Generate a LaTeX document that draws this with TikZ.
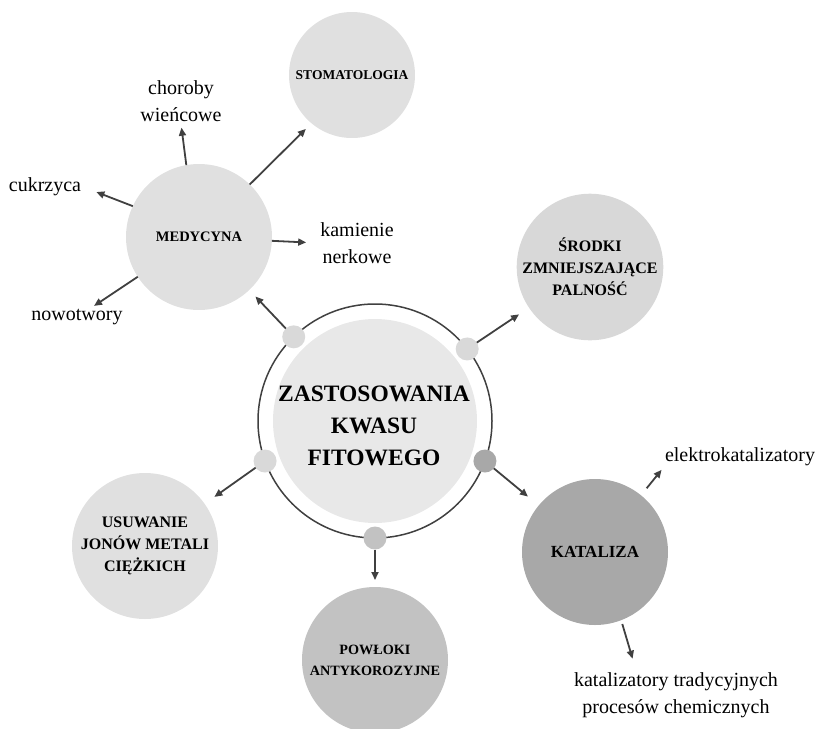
\documentclass[tikz,border=0pt]{standalone}
\usepackage{fontspec}
\setmainfont{Liberation Serif}
\usetikzlibrary{arrows.meta}
\definecolor{cgrey}{HTML}{E8E8E8}
\definecolor{lgrey}{HTML}{E0E0E0}
\definecolor{sgrey}{HTML}{D8D8D8}
\definecolor{kgrey}{HTML}{A8A8A8}
\definecolor{pgrey}{HTML}{C2C2C2}
\definecolor{dotgrey}{HTML}{D9D9D9}
\definecolor{dgrey}{HTML}{404040}
\tikzset{
  sat/.style={circle,fill=lgrey,minimum size=146pt,inner sep=0pt,outer sep=0pt,align=center,
              font=\bfseries\fontsize{15}{22}\selectfont},
  dot/.style={circle,minimum size=23pt,inner sep=0pt,outer sep=0pt},
  lbl/.style={align=center,inner sep=2pt,font=\fontsize{20}{27}\selectfont},
  arr/.style={-{Triangle[length=8pt,width=7pt]},line width=1.8pt,dgrey},
}
\begin{document}
\begin{tikzpicture}[x=1pt,y=-1pt]
\useasboundingbox (0,0) rectangle (815,729);
% centre
\node[circle,draw=dgrey,line width=1.5pt,minimum size=234pt,inner sep=0pt,outer sep=0pt] (ring) at (375,421) {};
\node[circle,fill=cgrey,minimum size=204pt,inner sep=0pt] (cen) at (375,421) {};
\node[align=center,font=\bfseries\fontsize{23.5}{32}\selectfont] (centxt) at (374,426) {ZASTOSOWANIA\\KWASU\\FITOWEGO};
% satellites
\node[sat,font=\bfseries\fontsize{14.5}{20}\selectfont] (med) at (199,237) {\raisebox{-5pt}{MEDYCYNA}};
\node[sat,minimum size=126pt,font=\bfseries\fontsize{13.5}{18}\selectfont] (stom) at (352,75) {STOMATOLOGIA};
\node[sat,minimum size=140pt,fill=sgrey,font=\bfseries\fontsize{16}{22}\selectfont] (srod) at (590,267) {ŚRODKI\\ZMNIEJSZAJĄCE\\PALNOŚĆ};
\node[sat,fill=kgrey,font=\bfseries\fontsize{17}{22}\selectfont] (kat) at (595,552) {KATALIZA};
\node[sat,fill=pgrey,font=\bfseries\fontsize{14.2}{21}\selectfont] (pow) at (375,660) {POWŁOKI\\ANTYKOROZYJNE};
\node[sat,font=\bfseries\fontsize{16}{22}\selectfont] (usu) at (145,546) {USUWANIE\\JONÓW METALI\\CIĘŻKICH};
% labels
\node[lbl] (chor) at (181,101) {choroby\\wieńcowe};
\node[lbl] (cuk) at (45,187) {cukrzyca};
\node[lbl] (kam) at (357,243) {kamienie\\nerkowe};
\node[lbl] (now) at (77,317) {nowotwory};
\node[lbl] (elek) at (740,457) {elektrokatalizatory};
\node[lbl] (katrad) at (676,695) {katalizatory tradycyjnych\\procesów chemicznych};
% dots on the ring
\foreach \a/\c [count=\k] in {134.6/dotgrey,38.5/dotgrey,200.9/dotgrey,-20.7/kgrey,-90/pgrey}
  \node[dot,fill=\c] (d\k) at (ring.\a) {};
% arrows
\draw[arr,shorten >=9pt] (d1) -- (med);
\draw[arr,shorten >=12pt] (d2) -- (srod);
\draw[arr,shorten >=12pt] (d3) -- (usu);
\draw[arr,shorten >=14pt] (d4) -- (kat);
\draw[arr,shorten >=7pt] (d5) -- (pow);
\draw[arr,shorten >=4pt] (med.100) -- (chor.south);
\draw[arr,shorten >=14pt] (med.155) -- (cuk.east);
\draw[arr,shorten >=12pt] (med.-3) -- (kam.west);
\draw[arr,shorten >=2pt] (med.213) -- (now.33);
\draw[arr,shorten >=8pt] (med.46) -- (stom.230);
\draw[arr,shorten <=9pt,shorten >=2pt] (kat) -- (elek.south west);
\draw[arr,shorten <=4pt,shorten >=12pt] (kat.-69) -- ([xshift=-40pt]katrad.north);
\end{tikzpicture}
\end{document}
